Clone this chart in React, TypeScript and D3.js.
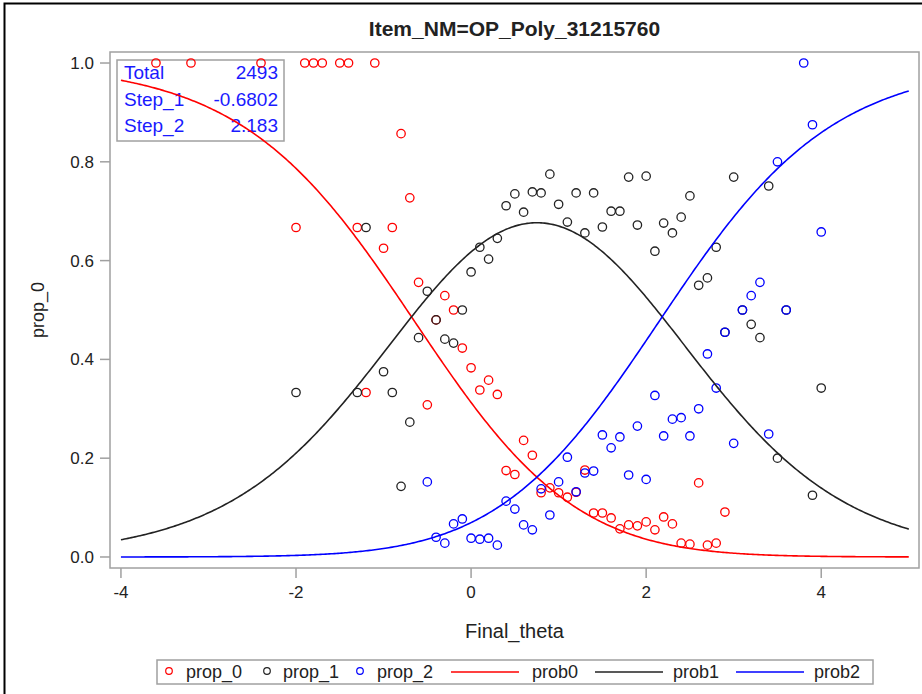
import React from "react";
import * as d3 from "d3";

// Observed proportions per theta bin: [Final_theta, proportion]
const prop0: [number, number][] = [
  [-3.6, 1], [-3.2, 1], [-2.4, 1], [-2.0, 0.667], [-1.9, 1], [-1.8, 1], [-1.7, 1],
  [-1.5, 1], [-1.4, 1], [-1.3, 0.667], [-1.2, 0.333], [-1.1, 1], [-1.0, 0.625],
  [-0.9, 0.667], [-0.8, 0.857], [-0.7, 0.727], [-0.6, 0.556], [-0.5, 0.308],
  [-0.4, 0.48], [-0.3, 0.529], [-0.2, 0.5], [-0.1, 0.423], [0, 0.383], [0.1, 0.338],
  [0.2, 0.358], [0.3, 0.329], [0.4, 0.175], [0.5, 0.167], [0.6, 0.236], [0.7, 0.206],
  [0.8, 0.13], [0.9, 0.14], [1.0, 0.13], [1.1, 0.121], [1.2, 0.131], [1.3, 0.176],
  [1.4, 0.089], [1.5, 0.089], [1.6, 0.079], [1.7, 0.057], [1.8, 0.065], [1.9, 0.063],
  [2.0, 0.071], [2.1, 0.055], [2.2, 0.081], [2.3, 0.067], [2.4, 0.028], [2.5, 0.026],
  [2.6, 0.15], [2.7, 0.024], [2.8, 0.028], [2.9, 0.091],
];

const prop1: [number, number][] = [
  [-2.0, 0.333], [-1.3, 0.333], [-1.2, 0.667], [-1.0, 0.375], [-0.9, 0.333],
  [-0.8, 0.143], [-0.7, 0.273], [-0.6, 0.444], [-0.5, 0.538], [-0.4, 0.48],
  [-0.3, 0.441], [-0.2, 0.433], [-0.1, 0.5], [0, 0.577], [0.1, 0.627], [0.2, 0.603],
  [0.3, 0.645], [0.4, 0.711], [0.5, 0.735], [0.6, 0.698], [0.7, 0.739], [0.8, 0.737],
  [0.9, 0.775], [1.0, 0.714], [1.1, 0.678], [1.2, 0.737], [1.3, 0.656], [1.4, 0.737],
  [1.5, 0.668], [1.6, 0.7], [1.7, 0.7], [1.8, 0.769], [1.9, 0.672], [2.0, 0.771],
  [2.1, 0.619], [2.2, 0.676], [2.3, 0.656], [2.4, 0.688], [2.5, 0.731], [2.6, 0.55],
  [2.7, 0.565], [2.8, 0.627], [2.9, 0.455], [3.0, 0.769], [3.1, 0.5], [3.2, 0.471],
  [3.3, 0.444], [3.4, 0.751], [3.5, 0.2], [3.6, 0.5], [3.9, 0.125], [4.0, 0.342],
];

const prop2: [number, number][] = [
  [-0.5, 0.152], [-0.4, 0.04], [-0.3, 0.028], [-0.2, 0.067], [-0.1, 0.077], [0, 0.038],
  [0.1, 0.036], [0.2, 0.038], [0.3, 0.024], [0.4, 0.113], [0.5, 0.097], [0.6, 0.065],
  [0.7, 0.055], [0.8, 0.138], [0.9, 0.085], [1.0, 0.152], [1.1, 0.202], [1.2, 0.132],
  [1.3, 0.17], [1.4, 0.174], [1.5, 0.247], [1.6, 0.221], [1.7, 0.243], [1.8, 0.166],
  [1.9, 0.265], [2.0, 0.157], [2.1, 0.327], [2.2, 0.245], [2.3, 0.279], [2.4, 0.282],
  [2.5, 0.245], [2.6, 0.3], [2.7, 0.411], [2.8, 0.342], [2.9, 0.455], [3.0, 0.23],
  [3.1, 0.5], [3.2, 0.529], [3.3, 0.556], [3.4, 0.249], [3.5, 0.8], [3.6, 0.5],
  [3.8, 1.0], [3.9, 0.875], [4.0, 0.658],
];

// Item statistics shown in the inset
const totalN = 2493;
const step1 = -0.6802;
const step2 = 2.183;
const statLabels = ["Total", "Step_1", "Step_2"];
const statValues = [String(totalN), String(step1), String(step2)];

const xTicks = [-4, -2, 0, 2, 4];
const yTicks = [0, 0.2, 0.4, 0.6, 0.8, 1.0];
const thetaRange: [number, number] = [-4, 5];

const title = "Item_NM=OP_Poly_31215760";
const xLabel = "Final_theta";
const yLabel = "prop_0";

const W = 922;
const H = 694;
const plot = { left: 110, top: 52, right: 919, bottom: 568 };
const FONT = "'Liberation Sans', Arial, Helvetica, sans-serif";
const TEXT = "#222";
const FRAME = "#a0a0a0";
const RED = "#ff0000";
const BLACK = "#222222";
const BLUE = "#0000ff";

// Partial credit model category probabilities from the step parameters
function categoryProbs(theta: number): number[] {
  const z0 = 1;
  const z1 = Math.exp(theta - step1);
  const z2 = Math.exp(2 * theta - step1 - step2);
  const s = z0 + z1 + z2;
  return [z0 / s, z1 / s, z2 / s];
}

export default function App() {
  const x = d3.scaleLinear().domain([-4.125, 5.117]).range([plot.left, plot.right]);
  const y = d3.scaleLinear().domain([-0.0223, 1.0223]).range([plot.bottom, plot.top]);

  const thetas = d3.range(thetaRange[0], thetaRange[1] + 1e-9, 0.02);
  const curveData = thetas.map((t) => ({ t, p: categoryProbs(t) }));
  const mkLine = (k: number) =>
    d3
      .line<{ t: number; p: number[] }>()
      .x((d) => x(d.t))
      .y((d) => y(d.p[k]))
      .curve(d3.curveLinear)(curveData) || "";

  const scatter = [
    { data: prop0, color: RED },
    { data: prop1, color: BLACK },
    { data: prop2, color: BLUE },
  ];
  const curves = [
    { k: 0, color: RED },
    { k: 1, color: BLACK },
    { k: 2, color: BLUE },
  ];

  const legendMarkers = [
    { label: "prop_0", color: RED, cx: 169, tx: 186 },
    { label: "prop_1", color: BLACK, cx: 267, tx: 283 },
    { label: "prop_2", color: BLUE, cx: 360, tx: 377 },
  ];
  const legendLines = [
    { label: "prob0", color: RED, x1: 451, x2: 519, tx: 532 },
    { label: "prob1", color: BLACK, x1: 595, x2: 663, tx: 673 },
    { label: "prob2", color: BLUE, x1: 736, x2: 804, tx: 814 },
  ];

  return (
    <svg
      width={W}
      height={H}
      style={{ position: "absolute", left: 0, top: 0, background: "#fff" }}
      fontFamily={FONT}
    >
      <rect x={0} y={0} width={W} height={H} fill="#fff" />
      {/* outer frame */}
      <rect x={4.5} y={3.5} width={W + 20} height={H + 20} fill="none" stroke="#000" strokeWidth={2} />

      {/* title */}
      <text x={(plot.left + plot.right) / 2} y={36} textAnchor="middle" fontSize={21} fontWeight="bold" fill={TEXT}>
        {title}
      </text>

      {/* plot frame */}
      <rect
        x={plot.left}
        y={plot.top}
        width={plot.right - plot.left}
        height={plot.bottom - plot.top}
        fill="none"
        stroke={FRAME}
        strokeWidth={1.5}
      />

      {/* y axis */}
      {yTicks.map((v) => (
        <g key={"y" + v}>
          <line x1={plot.left - 10} x2={plot.left} y1={y(v)} y2={y(v)} stroke={FRAME} strokeWidth={1.5} />
          <text x={plot.left - 16} y={y(v) + 6} textAnchor="end" fontSize={17} fill={TEXT}>
            {d3.format(".1f")(v)}
          </text>
        </g>
      ))}
      <text
        transform={`translate(44, ${(plot.top + plot.bottom) / 2}) rotate(-90)`}
        textAnchor="middle"
        fontSize={18}
        fill={TEXT}
      >
        {yLabel}
      </text>

      {/* x axis */}
      {xTicks.map((v) => (
        <g key={"x" + v}>
          <line x1={x(v)} x2={x(v)} y1={plot.bottom} y2={plot.bottom + 10} stroke={FRAME} strokeWidth={1.5} />
          <text x={x(v)} y={plot.bottom + 30} textAnchor="middle" fontSize={17} fill={TEXT}>
            {String(v)}
          </text>
        </g>
      ))}
      <text x={(plot.left + plot.right) / 2} y={638} textAnchor="middle" fontSize={20} fill={TEXT}>
        {xLabel}
      </text>

      {/* inset statistics */}
      <rect x={117} y={60} width={167} height={81} fill="none" stroke={FRAME} strokeWidth={1.5} />
      {statLabels.map((lab, i) => (
        <g key={lab}>
          <text x={124} y={79 + i * 26.5} fontSize={19} fill="#1a1aff">
            {lab}
          </text>
          <text x={278} y={79 + i * 26.5} fontSize={19} fill="#1a1aff" textAnchor="end">
            {statValues[i]}
          </text>
        </g>
      ))}

      {/* observed proportions */}
      {scatter.map((s, si) => (
        <g key={"s" + si}>
          {s.data.map(([t, p], i) => (
            <circle key={i} cx={x(t)} cy={y(p)} r={4.2} fill="none" stroke={s.color} strokeWidth={1.3} />
          ))}
        </g>
      ))}

      {/* model curves */}
      {curves.map((c) => (
        <path key={"c" + c.k} d={mkLine(c.k)} fill="none" stroke={c.color} strokeWidth={1.6} />
      ))}

      {/* legend */}
      <rect x={157} y={660} width={716} height={24} fill="none" stroke={FRAME} strokeWidth={1.5} />
      {legendMarkers.map((m) => (
        <g key={m.label}>
          <circle cx={m.cx} cy={671} r={3.3} fill="none" stroke={m.color} strokeWidth={1.2} />
          <text x={m.tx} y={678} fontSize={18} fill={TEXT}>
            {m.label}
          </text>
        </g>
      ))}
      {legendLines.map((l) => (
        <g key={l.label}>
          <line x1={l.x1} x2={l.x2} y1={672} y2={672} stroke={l.color} strokeWidth={1.6} />
          <text x={l.tx} y={678} fontSize={18} fill={TEXT}>
            {l.label}
          </text>
        </g>
      ))}
    </svg>
  );
}
